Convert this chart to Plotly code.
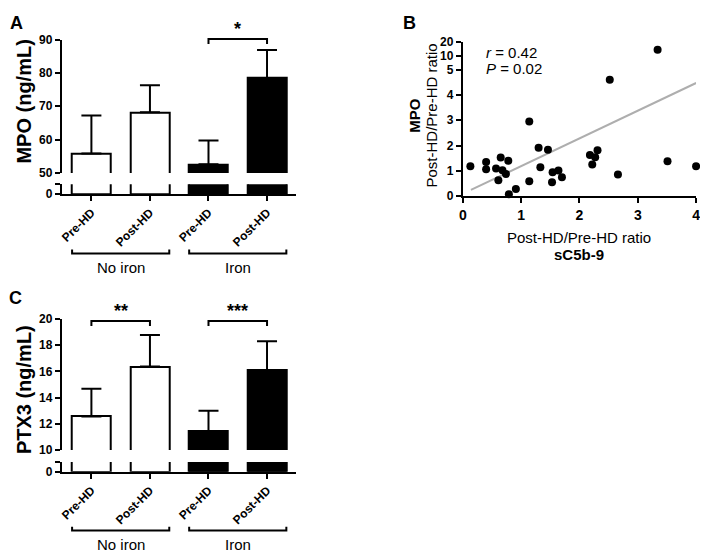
import math
import plotly.graph_objects as go

# page offset of the plot div (default body margin) and figure size
OX, OY = 8, 8
W, H = 700, 552
FONT = "Liberation Sans, Arial, sans-serif"

# ---------------- data ----------------
bar_labels = ["Pre-HD", "Post-HD", "Pre-HD", "Post-HD"]
group_names = ["No iron", "Iron"]
group_members = [(0, 1), (2, 3)]
bar_colors = ["white", "white", "black", "black"]

mpo_mean = [55.8, 68.2, 52.6, 78.5]
mpo_err = [11.4, 8.1, 7.1, 8.4]
mpo_sig = [(2, 3, "*")]

ptx3_mean = [12.56, 16.37, 11.45, 16.12]
ptx3_err = [2.11, 2.42, 1.54, 2.18]
ptx3_sig = [(0, 1, "**"), (2, 3, "***")]

sc5b9_ratio = [0.13, 0.40, 0.40, 0.57, 0.65, 0.61, 0.68, 0.78, 0.74, 0.79,
               0.91, 1.14, 1.14, 1.30, 1.33, 1.46, 1.54, 1.53, 1.64, 1.70,
               2.18, 2.22, 2.27, 2.31, 2.66, 3.51, 4.00, 2.52, 3.34]
mpo_ratio = [1.19, 1.35, 1.07, 1.10, 1.53, 0.63, 1.03, 1.40, 0.88, 0.08,
             0.29, 2.95, 0.59, 1.92, 1.15, 1.84, 0.95, 0.55, 1.02, 0.75,
             1.63, 1.25, 1.54, 1.82, 0.86, 1.38, 1.19, 4.60, 13.5]
fit_x = [0.14, 4.0]
fit_y = [0.25, 4.47]
corr_r = "0.42"
corr_p = "0.02"

# ---------------- geometry (page pixels) ----------------
cats = list(range(len(bar_labels)))
XR = [-0.507, 3.49]
BAR_W = 0.66
A_X = (58.3, 295.0)
A_UP = (170.0, 33.3)
A_LO = (191.7, 181.7)
C_UP = (454.3, 320.0)
C_LO = (476.7, 466.7)
B_X = (464.0, 700.0)
B_LIN = (194.0, 64.0)
B_LOG = (64.0, 35.7)


def fx(p):
    return (p - OX) / W


def fy(p):
    return 1 - (p - OY) / H


def xpix(v):
    return A_X[0] + (v - XR[0]) / (XR[1] - XR[0]) * (A_X[1] - A_X[0])


axis_style = dict(showline=True, linecolor="black", linewidth=2, ticks="outside",
                  ticklen=5, tickwidth=2, tickcolor="black", showgrid=False,
                  zeroline=False,
                  tickfont=dict(family=FONT, size=12, color="black", weight="bold"))

fig = go.Figure()


def add_bar_panel(xa, ya_up, ya_lo, means, errs):
    fig.add_trace(go.Bar(
        x=cats, y=means, xaxis=xa, yaxis=ya_up, width=BAR_W,
        marker=dict(color=bar_colors, line=dict(color="black", width=2)),
        error_y=dict(type="data", symmetric=False, array=errs,
                     arrayminus=[0] * len(errs), color="black",
                     thickness=2, width=10),
        showlegend=False, hoverinfo="skip"))
    fig.add_trace(go.Bar(
        x=cats, y=means, xaxis=xa, yaxis=ya_lo, width=BAR_W,
        marker=dict(color=bar_colors, line=dict(color="black", width=2)),
        showlegend=False, hoverinfo="skip"))


add_bar_panel("x", "y", "y2", mpo_mean, mpo_err)
add_bar_panel("x3", "y5", "y6", ptx3_mean, ptx3_err)

# scatter panel B (values above 5 go on the compressed log segment)
lin_x = [x for x, y in zip(sc5b9_ratio, mpo_ratio) if y <= 5]
lin_y = [y for y in mpo_ratio if y <= 5]
log_x = [x for x, y in zip(sc5b9_ratio, mpo_ratio) if y > 5]
log_y = [y for y in mpo_ratio if y > 5]

fig.add_trace(go.Scatter(x=fit_x, y=fit_y, xaxis="x2", yaxis="y3", mode="lines",
                         line=dict(color="#aeaeae", width=2),
                         showlegend=False, hoverinfo="skip"))
fig.add_trace(go.Scatter(x=lin_x, y=lin_y, xaxis="x2", yaxis="y3", mode="markers",
                         marker=dict(color="black", size=8), cliponaxis=False,
                         showlegend=False))
fig.add_trace(go.Scatter(x=log_x, y=log_y, xaxis="x2", yaxis="y4", mode="markers",
                         marker=dict(color="black", size=8), cliponaxis=False,
                         showlegend=False))

MPO_UP_R = [50, 90]
PTX_UP_R = [10, 20]
LO_R = [0, 5]

cat_axis = dict(axis_style, range=XR, tickvals=cats, ticktext=bar_labels,
                tickangle=-45,
                tickfont=dict(family=FONT, size=12, color="black", weight="bold"))

fig.update_layout(
    width=W, height=H, margin=dict(l=0, r=0, t=0, b=0),
    plot_bgcolor="white", paper_bgcolor="white", showlegend=False,
    bargap=0,
    xaxis=dict(cat_axis, domain=[fx(A_X[0]), fx(A_X[1])], anchor="y2"),
    yaxis=dict(axis_style, domain=[fy(A_UP[0]), fy(A_UP[1])], range=MPO_UP_R,
               tickvals=[50, 60, 70, 80, 90], anchor="x"),
    yaxis2=dict(axis_style, domain=[fy(A_LO[0]), fy(A_LO[1])], range=LO_R,
                tickvals=[0, 5], ticktext=["0", ""], anchor="x"),
    xaxis3=dict(cat_axis, domain=[fx(A_X[0]), fx(A_X[1])], anchor="y6"),
    yaxis5=dict(axis_style, domain=[fy(C_UP[0]), fy(C_UP[1])], range=PTX_UP_R,
                tickvals=[10, 12, 14, 16, 18, 20], anchor="x3"),
    yaxis6=dict(axis_style, domain=[fy(C_LO[0]), fy(C_LO[1])], range=LO_R,
                tickvals=[0, 5], ticktext=["0", ""], anchor="x3"),
    xaxis2=dict(axis_style, domain=[fx(B_X[0]), fx(B_X[1])], range=[0, 4],
                tickvals=[0, 1, 2, 3, 4], anchor="y3",
                tickfont=dict(family=FONT, size=14, color="black", weight="bold")),
    yaxis3=dict(axis_style, domain=[fy(B_LIN[0]), fy(B_LIN[1])], range=[0, 5],
                tickvals=[0, 1, 2, 3, 4, 5], anchor="x2"),
    yaxis4=dict(axis_style, type="log", domain=[fy(B_LOG[0]), fy(B_LOG[1])],
                range=[math.log10(5), math.log10(20)], tickvals=[10, 20],
                anchor="x2"),
)

shapes = []
annotations = []


def ann(x, y, text, size, bold=False, angle=0, xanchor="center"):
    annotations.append(dict(
        x=fx(x), y=fy(y), xref="paper", yref="paper", text=text,
        showarrow=False, textangle=angle, xanchor=xanchor, yanchor="middle",
        font=dict(family=FONT, size=size, color="black",
                  weight="bold" if bold else "normal")))


def path_shape(pts):
    d = "M " + " L ".join(f"{fx(px_):.5f},{fy(py_):.5f}" for px_, py_ in pts)
    shapes.append(dict(type="path", path=d, xref="paper", yref="paper",
                       line=dict(color="black", width=2)))


def sig_brackets(sigs, y_line, y_text):
    for a, b, txt in sigs:
        xa, xb = xpix(a), xpix(b)
        path_shape([(xa, y_line + 5), (xa, y_line), (xb, y_line), (xb, y_line + 5)])
        ann((xa + xb) / 2, y_text, txt, 18, bold=True)


def group_brackets(y_line, y_text):
    for name, (a, b) in zip(group_names, group_members):
        xa, xb = xpix(a - BAR_W / 2), xpix(b + BAR_W / 2)
        path_shape([(xa, y_line - 4), (xa, y_line), (xb, y_line), (xb, y_line - 4)])
        ann((xa + xb) / 2, y_text, name, 15)


sig_brackets(mpo_sig, 32.7, 22.0)
sig_brackets(ptx3_sig, 322.0, 311.5)
group_brackets(252.7, 267.0)
group_brackets(537.0, 551.0)

# panel labels
ann(13, 16, "A", 18, bold=True)
ann(410, 16, "B", 18, bold=True)
ann(12, 298, "C", 18, bold=True)

# axis titles
ann(20, 97, "MPO (ng/mL)", 20, bold=True, angle=-90)
ann(20, 392, "PTX3 (ng/mL)", 20, bold=True, angle=-90)
ann(415, 111, "MPO", 15, bold=True, angle=-90)
ann(432, 111, "Post-HD/Pre-HD ratio", 15, angle=-90)
ann(582, 236.7, "Post-HD/Pre-HD ratio", 15)
ann(582, 254, "sC5b-9", 15, bold=True)

# correlation text
ann(485, 46.7, f"<i>r</i> = {corr_r}", 15, xanchor="left")
ann(485, 63.3, f"<i>P</i> = {corr_p}", 15, xanchor="left")

fig.update_layout(shapes=shapes, annotations=annotations)
fig.write_html("out.html")
